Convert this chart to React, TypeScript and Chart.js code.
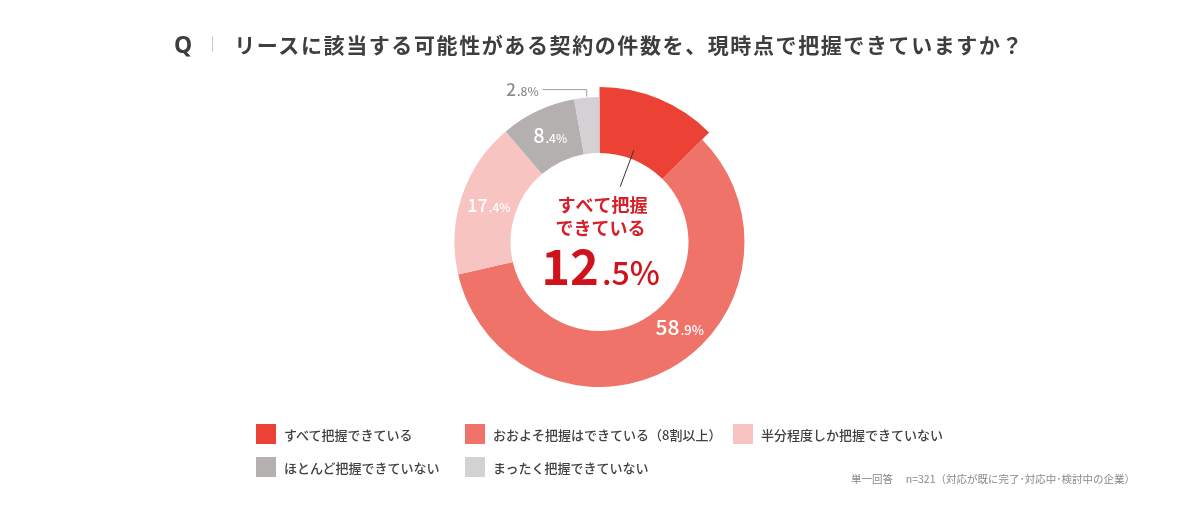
import { useEffect, useRef } from "react"
import { Chart, registerables } from "chart.js"

Chart.register(...registerables)

const FONT = '"Noto Sans CJK JP", "Noto Sans", sans-serif'

const questionTitle = "リースに該当する可能性がある契約の件数を、現時点で把握できていますか？"
const categories = [
  "すべて把握できている",
  "おおよそ把握はできている（8割以上）",
  "半分程度しか把握できていない",
  "ほとんど把握できていない",
  "まったく把握できていない",
]
const shares = [12.5, 58.9, 17.4, 8.4, 2.8]
const sliceColors = ["#EC4236", "#F07369", "#F8C4C1", "#B4B0B0", "#D3D1D4"]
const highlightLines = ["すべて把握", "できている"]
const footNote = "単一回答　 n=321（対応が既に完了･対応中･検討中の企業）"

// draws "58" big + ".9%" small
function drawSplitValue(
  ctx: CanvasRenderingContext2D,
  value: number,
  x: number,
  y: number,
  bigSize: number,
  smallSize: number,
  color: string,
  align: "center" | "right"
) {
  const [intPart, decPart] = value.toFixed(1).split(".")
  const tail = "." + decPart + "%"
  const bigFont = `500 ${bigSize}px ${FONT}`
  const smallFont = `500 ${smallSize}px ${FONT}`
  ctx.font = bigFont
  const w1 = ctx.measureText(intPart).width
  ctx.font = smallFont
  const w2 = ctx.measureText(tail).width
  const total = w1 + w2
  const left = align === "center" ? x - total / 2 : x - total
  const baseline = y + bigSize * 0.36
  ctx.fillStyle = color
  ctx.textAlign = "left"
  ctx.textBaseline = "alphabetic"
  ctx.font = bigFont
  ctx.fillText(intPart, left, baseline)
  ctx.font = smallFont
  ctx.fillText(tail, left + w1 + 1, baseline)
}

const donutDecor = {
  id: "donutDecor",
  afterDatasetsUpdate(chart: any) {
    // pull the first slice outward
    const arc = chart.getDatasetMeta(0).data[0]
    if (arc) arc.outerRadius = arc.outerRadius + 10
  },
  afterDatasetsDraw(chart: any) {
    const ctx: CanvasRenderingContext2D = chart.ctx
    const arcs = chart.getDatasetMeta(0).data
    if (!arcs.length) return
    const cx = arcs[0].x
    const cy = arcs[0].y
    const ringInner = arcs[1].innerRadius
    const ringOuter = arcs[1].outerRadius
    const midR = (ringInner + ringOuter) / 2
    const mid = (a: any) => (a.startAngle + a.endAngle) / 2

    ctx.save()

    // in-ring labels
    const inner: Record<number, { big: number; small: number; nudge: number }> = {
      1: { big: 21, small: 13, nudge: (-14 * Math.PI) / 180 },
      2: { big: 18, small: 12, nudge: 0 },
      3: { big: 20, small: 12, nudge: 0 },
    }
    Object.keys(inner).forEach((k) => {
      const i = Number(k)
      const cfg = inner[i]
      const ang = mid(arcs[i]) + cfg.nudge
      const x = cx + Math.cos(ang) * midR
      const y = cy + Math.sin(ang) * midR
      drawSplitValue(ctx, shares[i], x, y, cfg.big, cfg.small, "#FFFFFF", "center")
    })

    // outside label for the smallest slice
    const last = arcs.length - 1
    const a4 = mid(arcs[last])
    const px = cx + Math.cos(a4) * (ringOuter + 1)
    const py = cy + Math.sin(a4) * (ringOuter + 1)
    const elbowY = py - 7
    const lineEnd = px - 44
    ctx.strokeStyle = "#A0A0A0"
    ctx.lineWidth = 1
    ctx.beginPath()
    ctx.moveTo(px, py)
    ctx.lineTo(px, elbowY)
    ctx.lineTo(lineEnd, elbowY)
    ctx.stroke()
    drawSplitValue(ctx, shares[last], lineEnd - 5, elbowY, 17, 12, "#8C8C8C", "right")

    // leader from center text to the highlighted slice
    const a0 = mid(arcs[0]) - (2 * Math.PI) / 180
    ctx.strokeStyle = "#333333"
    ctx.beginPath()
    ctx.moveTo(cx + Math.cos(a0) * 59, cy + Math.sin(a0) * 59)
    ctx.lineTo(cx + Math.cos(a0) * 98, cy + Math.sin(a0) * 98)
    ctx.stroke()

    // center text
    ctx.fillStyle = "#D4202A"
    ctx.textAlign = "center"
    ctx.textBaseline = "middle"
    ctx.font = `700 18px ${FONT}`
    ctx.fillText(highlightLines[0], cx + 3, cy - 37)
    ctx.fillText(highlightLines[1], cx + 1, cy - 14)

    const [ip, dp] = shares[0].toFixed(1).split(".")
    const bigFont = `700 49px ${FONT}`
    const midFont = `500 32px ${FONT}`
    ctx.font = bigFont
    const w1 = ctx.measureText(ip).width
    ctx.font = midFont
    const w2 = ctx.measureText("." + dp + "%").width
    const left = cx + 1 - (w1 + w2 + 3) / 2
    const base = cy + 43
    ctx.textAlign = "left"
    ctx.textBaseline = "alphabetic"
    ctx.fillStyle = "#D0121C"
    ctx.font = bigFont
    ctx.fillText(ip, left, base)
    ctx.font = midFont
    ctx.fillText("." + dp + "%", left + w1 + 3, base)

    ctx.restore()
  },
}

function DonutChart() {
  const chartRef = useRef<HTMLCanvasElement>(null)
  const chartInstance = useRef<Chart | null>(null)

  useEffect(() => {
    if (!chartRef.current) return
    if (chartInstance.current) chartInstance.current.destroy()
    const ctx = chartRef.current.getContext("2d")
    if (!ctx) return

    chartInstance.current = new Chart(ctx, {
      type: "doughnut",
      data: {
        labels: categories,
        datasets: [
          {
            data: shares,
            backgroundColor: sliceColors,
            borderWidth: 0,
            hoverOffset: 0,
          },
        ],
      },
      options: {
        animation: false,
        responsive: true,
        maintainAspectRatio: false,
        radius: 145,
        cutout: "61.4%",
        rotation: 0,
        layout: {
          padding: { top: 97, bottom: 129, left: 454.5, right: 455.5 },
        },
        plugins: {
          legend: { display: false },
          tooltip: { enabled: false },
        },
      },
      plugins: [donutDecor],
    })

    return () => {
      if (chartInstance.current) {
        chartInstance.current.destroy()
        chartInstance.current = null
      }
    }
  }, [])

  return <canvas ref={chartRef} />
}

export default function App() {
  return (
    <div
      style={{
        position: "fixed",
        left: 0,
        top: 0,
        width: 1200,
        height: 516,
        background: "#FFFFFF",
        fontFamily: FONT,
        overflow: "hidden",
      }}
    >
      <div style={{ position: "absolute", inset: 0 }}>
        <DonutChart />
      </div>

      {/* question title */}
      <div
        style={{
          position: "absolute",
          left: 174,
          top: 30,
          height: 28,
          display: "flex",
          alignItems: "center",
          color: "#3E3E3E",
          fontWeight: 700,
        }}
      >
        <span style={{ fontSize: 23, fontFamily: '"Noto Sans", sans-serif' }}>Q</span>
        <span
          style={{
            display: "inline-block",
            width: 1,
            height: 16,
            background: "#C8C8C8",
            marginLeft: 20,
            marginRight: 21,
          }}
        />
        <span style={{ fontSize: 21, letterSpacing: 1.6, whiteSpace: "nowrap" }}>{questionTitle}</span>
      </div>

      {/* legend */}
      <div
        style={{
          position: "absolute",
          left: 256,
          top: 424,
          display: "grid",
          gridTemplateColumns: "209px 268px auto",
          rowGap: 13,
        }}
      >
        {categories.map((c, i) => (
          <div key={c} style={{ display: "flex", alignItems: "center", height: 20 }}>
            <span
              style={{
                display: "inline-block",
                width: 20,
                height: 20,
                background: sliceColors[i],
                marginRight: 8,
              }}
            />
            <span style={{ fontSize: 13, color: "#404040", fontWeight: 500, whiteSpace: "nowrap" }}>{c}</span>
          </div>
        ))}
      </div>

      {/* footnote */}
      <div
        style={{
          position: "absolute",
          right: 65,
          top: 471,
          fontSize: 10.5,
          color: "#888888",
          whiteSpace: "nowrap",
        }}
      >
        {footNote}
      </div>
    </div>
  )
}
